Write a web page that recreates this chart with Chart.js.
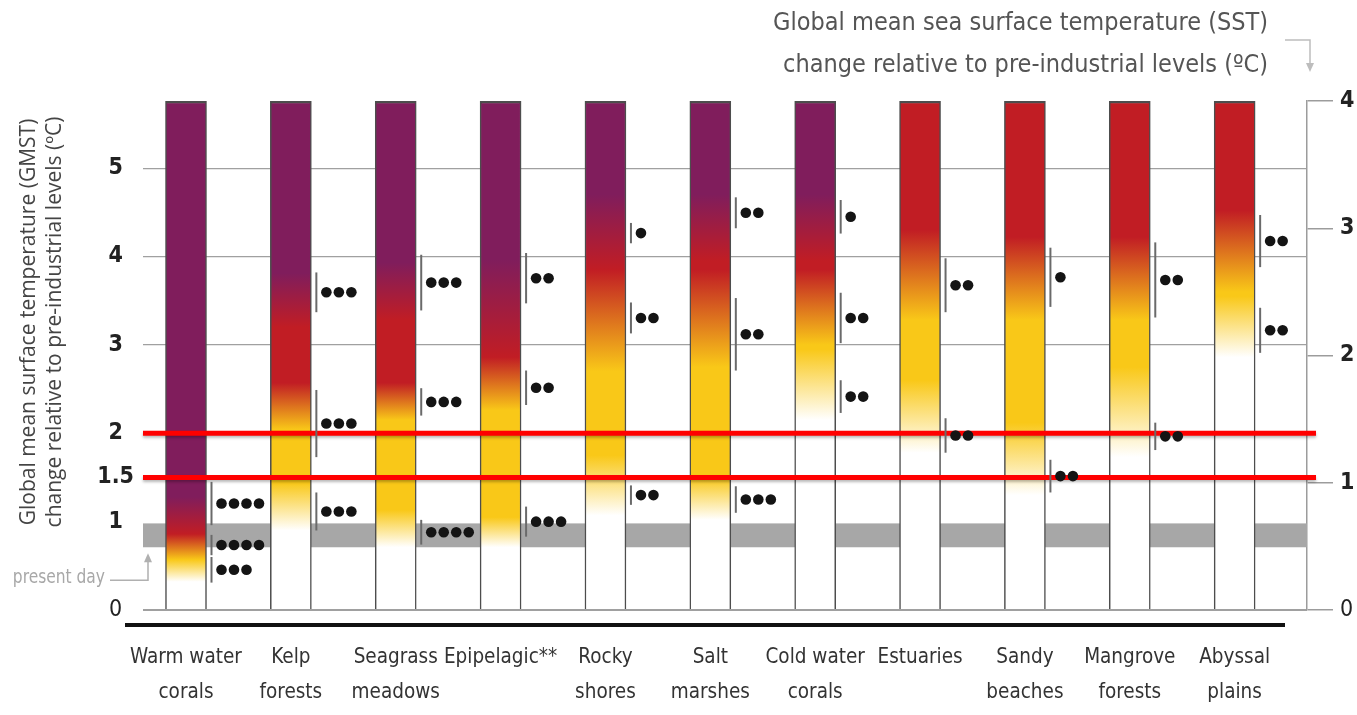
<!DOCTYPE html>
<html>
<head>
<meta charset="utf-8">
<title>Risk of impacts for ocean and coastal ecosystems</title>
<script src="https://cdn.jsdelivr.net/npm/chart.js@4.4.1/dist/chart.umd.min.js"></script>
<style>
  html, body { margin: 0; padding: 0; background: #ffffff; }
  #wrap { width: 1357px; height: 715px; }
</style>
</head>
<body>
<div id="wrap"><canvas id="embers" width="1357" height="715"></canvas></div>
<script>
// ---- data -------------------------------------------------------------
const categories = [
  ['Warm water', 'corals'], ['Kelp', 'forests'], ['Seagrass', 'meadows'], ['Epipelagic**'],
  ['Rocky', 'shores'], ['Salt', 'marshes'], ['Cold water', 'corals'], ['Estuaries'],
  ['Sandy', 'beaches'], ['Mangrove', 'forests'], ['Abyssal', 'plains']
];

const gmstPerSst = 1.44;            // GMST change equivalent to 1 °C of SST change
const sstMax = 4;                   // top of every ember, SST °C
const gmstTicks = [0, 1, 1.5, 2, 3, 4, 5];
const sstTicks = [0, 1, 2, 3, 4];
const gridLevels = [2, 3, 4, 5];
const warmingLevels = [1.5, 2];     // GMST °C reference lines
const presentDay = [0.71, 0.98];    // GMST °C, present-day band

// Colour change of each ember (GMST °C where it starts / ends)
const fadeToModerate = [[0.32, 0.57], [0.90, 1.44], [0.71, 1.13], [0.71, 1.05], [1.07, 1.75], [1.02, 1.50],
                        [2.15, 2.95], [1.78, 2.60], [1.30, 2.12], [1.73, 2.75], [2.86, 3.55]];
const fadeToHigh     = [[0.57, 0.86], [2.04, 2.57], [2.15, 2.57], [2.26, 2.86], [2.70, 3.85], [2.75, 3.85],
                        [3.00, 3.85], [3.28, 4.30], [3.28, 4.22], [3.28, 4.22], [3.60, 4.52]];
const fadeToVeryHigh = [[0.86, 1.28], [3.20, 3.81], [3.28, 3.93], [2.86, 3.96], [3.85, 4.70], [3.95, 4.70],
                        [3.95, 4.70], null, null, null, null];

// Transition ranges (GMST °C) and confidence level (number of dots)
const moderateRange = [[0.31, 0.60, 3], [0.90, 1.33, 3], [0.74, 1.02, 4], [0.83, 1.17, 3], [1.19, 1.41, 2], [1.10, 1.40, 3],
                       [2.23, 2.60, 2], [1.78, 2.17, 2], [1.33, 1.70, 2], [1.81, 2.12, 2], [2.91, 3.42, 2]];
const highRange     = [[0.62, 0.85, 4], [1.73, 2.49, 3], [2.20, 2.51, 3], [2.32, 2.71, 2], [3.13, 3.48, 2], [2.71, 3.53, 2],
                       [3.02, 3.59, 2], [3.37, 3.98, 2], [3.43, 4.10, 1], [3.31, 4.16, 2], [3.88, 4.47, 2]];
const veryHighRange = [[0.96, 1.45, 4], [3.37, 3.82, 3], [3.39, 4.02, 3], [3.47, 4.04, 2], [4.15, 4.38, 1], [4.32, 4.67, 2],
                       [4.26, 4.64, 1], null, null, null, null];

// ---- styling ----------------------------------------------------------
const gmstMax = sstMax * gmstPerSst;
const WHITE = '#ffffff', YELLOW = '#f9c818', RED = '#c11d24', PURPLE = '#801d5c';
const NARROW = "'DejaVu Sans Condensed', 'Roboto Condensed', sans-serif";
const PLAIN = "'Open Sans', 'Noto Sans', sans-serif";

function emberFill(ctx) {
  const chart = ctx.chart;
  const y = chart.scales && chart.scales.y;
  if (!y || !chart.chartArea) return WHITE;
  const i = ctx.dataIndex;
  const g = chart.ctx.createLinearGradient(0, y.getPixelForValue(0), 0, y.getPixelForValue(gmstMax));
  const stop = (v, c) => g.addColorStop(Math.min(1, Math.max(0, v / gmstMax)), c);
  stop(0, WHITE);
  stop(fadeToModerate[i][0], WHITE);
  stop(fadeToModerate[i][1], YELLOW);
  stop(fadeToHigh[i][0], YELLOW);
  stop(fadeToHigh[i][1], RED);
  if (fadeToVeryHigh[i]) {
    stop(fadeToVeryHigh[i][0], RED);
    stop(fadeToVeryHigh[i][1], PURPLE);
    stop(gmstMax, PURPLE);
  } else {
    stop(gmstMax, RED);
  }
  return g;
}

function arrowHead(ctx, x, y, dir) {
  ctx.beginPath();
  ctx.moveTo(x, y);
  ctx.lineTo(x - 4, y - 9 * dir);
  ctx.lineTo(x + 4, y - 9 * dir);
  ctx.closePath();
  ctx.fill();
}

const emberAnnotations = {
  id: 'emberAnnotations',
  beforeDatasetsDraw(chart) {
    const { ctx, chartArea: a, scales: { y } } = chart;
    const top = y.getPixelForValue(presentDay[1]);
    const bottom = y.getPixelForValue(presentDay[0]);
    ctx.save();
    ctx.fillStyle = '#a7a7a7';
    ctx.fillRect(a.left, top, a.right - a.left, bottom - top);
    ctx.restore();
  },
  afterDatasetsDraw(chart) {
    const { ctx, chartArea: a, scales: { y } } = chart;
    const bars = chart.getDatasetMeta(0).data;
    ctx.save();

    // 1.5 °C and 2 °C warming levels
    ctx.strokeStyle = '#ff0000';
    ctx.lineWidth = 5;
    ctx.shadowColor = 'rgba(0,0,0,0.28)';
    ctx.shadowBlur = 3;
    ctx.shadowOffsetY = 2;
    warmingLevels.forEach(v => {
      const py = y.getPixelForValue(v);
      ctx.beginPath();
      ctx.moveTo(a.left, py);
      ctx.lineTo(a.right + 9, py);
      ctx.stroke();
    });
    ctx.shadowColor = 'transparent';

    // confidence brackets beside each ember
    bars.forEach((bar, i) => {
      const lx = bar.x + bar.width / 2 + 5;
      [moderateRange[i], highRange[i], veryHighRange[i]].forEach(r => {
        if (!r) return;
        const [lo, hi, n] = r;
        const y0 = y.getPixelForValue(lo), y1 = y.getPixelForValue(hi);
        ctx.strokeStyle = '#6a6a6a';
        ctx.lineWidth = 2;
        ctx.beginPath();
        ctx.moveTo(lx, y0);
        ctx.lineTo(lx, y1);
        ctx.stroke();
        const cy = (y0 + y1) / 2;
        ctx.fillStyle = '#141414';
        for (let k = 0; k < n; k++) {
          ctx.beginPath();
          ctx.arc(lx + 10 + k * 12.5, cy, 5.3, 0, Math.PI * 2);
          ctx.fill();
        }
      });
    });

    // heavy rule under the axis
    ctx.strokeStyle = '#111111';
    ctx.lineWidth = 4;
    ctx.beginPath();
    ctx.moveTo(a.left - 18, a.bottom + 15);
    ctx.lineTo(a.right - 22, a.bottom + 15);
    ctx.stroke();

    // present-day pointer
    const bandBottom = y.getPixelForValue(presentDay[0]);
    const px = a.left + 5;
    const py = bandBottom + 33;
    ctx.strokeStyle = '#b0b0b0';
    ctx.fillStyle = '#b0b0b0';
    ctx.lineWidth = 1.5;
    ctx.beginPath();
    ctx.moveTo(a.left - 33, py);
    ctx.lineTo(px, py);
    ctx.lineTo(px, bandBottom + 14);
    ctx.stroke();
    arrowHead(ctx, px, bandBottom + 6, -1);
    ctx.save();
    ctx.translate(a.left - 38, py - 2);
    ctx.scale(0.86, 1);
    ctx.font = '20px ' + NARROW;
    ctx.fillStyle = '#a8a8a8';
    ctx.textAlign = 'right';
    ctx.textBaseline = 'middle';
    ctx.fillText('present day', 0, 0);
    ctx.restore();

    // right-hand axis title and its pointer
    ctx.font = '25px ' + NARROW;
    ctx.fillStyle = '#555555';
    ctx.textAlign = 'right';
    ctx.textBaseline = 'middle';
    ctx.fillText('Global mean sea surface temperature (SST)', a.right - 39, a.top - 78);
    ctx.fillText('change relative to pre-industrial levels (ºC)', a.right - 39, a.top - 36);
    ctx.strokeStyle = '#bdbdbd';
    ctx.fillStyle = '#bdbdbd';
    ctx.lineWidth = 1.5;
    ctx.beginPath();
    ctx.moveTo(a.right - 22, a.top - 61);
    ctx.lineTo(a.right + 3, a.top - 61);
    ctx.lineTo(a.right + 3, a.top - 38);
    ctx.stroke();
    arrowHead(ctx, a.right + 3, a.top - 29, 1);

    // left-hand axis title
    ctx.save();
    ctx.translate(35, 322);
    ctx.rotate(-Math.PI / 2);
    ctx.font = '21px ' + PLAIN;
    ctx.fillStyle = '#444444';
    ctx.textAlign = 'center';
    ctx.textBaseline = 'alphabetic';
    ctx.fillText('Global mean surface temperature (GMST)', 0, 0);
    ctx.fillText('change relative to pre-industrial levels (ºC)', 0, 26);
    ctx.restore();

    ctx.restore();
  }
};

new Chart(document.getElementById('embers'), {
  type: 'bar',
  data: {
    datasets: [{
      data: categories.map((_, i) => ({ x: i, y: [0, gmstMax] })),
      backgroundColor: emberFill,
      borderColor: '#4d4d4d',
      borderWidth: { top: 2.5, left: 1.5, right: 1.5, bottom: 0 },
      borderSkipped: 'start',
      barThickness: 41,
      xAxisID: 'x',
      yAxisID: 'y'
    }]
  },
  options: {
    responsive: false,
    animation: false,
    events: [],
    layout: { padding: { top: 101, left: 0, right: 0, bottom: 0 } },
    plugins: { legend: { display: false }, tooltip: { enabled: false } },
    scales: {
      x: {
        type: 'linear',
        offset: false,
        min: -0.41,
        max: 10.69,
        grid: { display: false },
        border: { display: false },
        afterBuildTicks: s => { s.ticks = categories.map((_, i) => ({ value: i })); },
        afterFit: s => { s.height = 105; },
        ticks: {
          autoSkip: false,
          maxRotation: 0,
          padding: 22,
          color: '#333333',
          font: { family: NARROW, size: 20.5, lineHeight: 1.7 },
          callback: v => categories[v]
        }
      },
      y: {
        type: 'linear',
        position: 'left',
        min: 0,
        max: gmstMax,
        afterBuildTicks: s => { s.ticks = gmstTicks.map(v => ({ value: v })); },
        afterFit: s => { s.width = 143; },
        border: { display: false },
        grid: {
          drawTicks: false,
          color: c => (c.tick && (gridLevels.includes(c.tick.value) || c.tick.value === 0)) ? '#a0a0a0' : 'rgba(0,0,0,0)',
          lineWidth: c => (c.tick && c.tick.value === 0) ? 2 : 1.2
        },
        ticks: {
          autoSkip: false,
          crossAlign: 'center',
          padding: 9,
          color: '#222222',
          font: c => ({ family: NARROW, size: 23, weight: (c.tick && c.tick.value === 0) ? 'normal' : 'bold' }),
          callback: v => String(v)
        }
      },
      y2: {
        type: 'linear',
        position: 'right',
        min: 0,
        max: sstMax,
        afterBuildTicks: s => { s.ticks = sstTicks.map(v => ({ value: v })); },
        afterFit: s => { s.width = 50; },
        border: { display: true, color: '#9c9c9c', width: 1.5 },
        grid: { drawOnChartArea: false, drawTicks: true, tickLength: 26, color: '#9c9c9c', lineWidth: 1.5 },
        ticks: {
          autoSkip: false,
          padding: 7,
          color: '#222222',
          font: c => ({ family: NARROW, size: 23, weight: (c.tick && c.tick.value === 0) ? 'normal' : 'bold' }),
          callback: v => String(v)
        }
      }
    }
  },
  plugins: [emberAnnotations]
});
</script>
</body>
</html>
